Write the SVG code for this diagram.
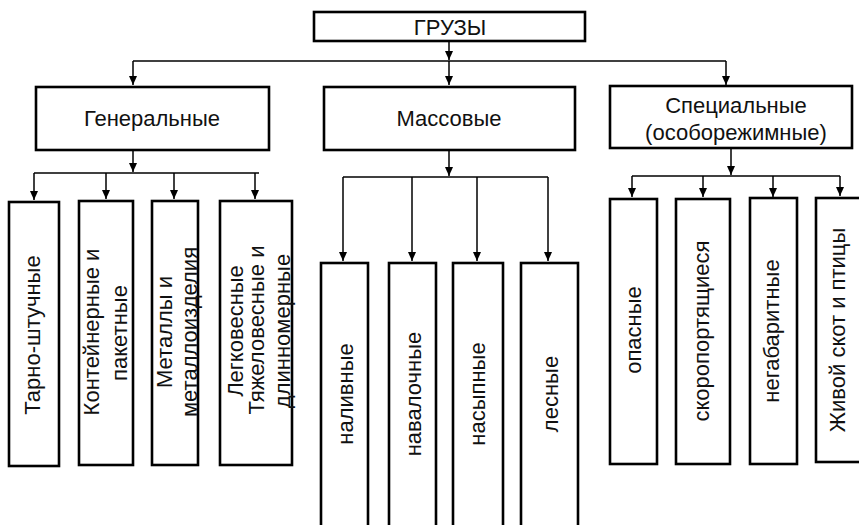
<svg xmlns="http://www.w3.org/2000/svg" width="859" height="525" viewBox="0 0 859 525">
<style>
.box{fill:#fff;stroke:#000;stroke-width:2.6}
.t{font-family:"Liberation Sans",Arial,sans-serif;font-size:22px;fill:#111;text-anchor:middle}
.c{fill:none;stroke:#000;stroke-width:1.5}
.a{marker-end:url(#ah)}
</style>
<defs>
<marker id="ah" markerWidth="10" markerHeight="10" refX="9" refY="4" orient="auto" markerUnits="userSpaceOnUse"><path d="M0,0 L9,4 L0,8 z" fill="#000"/></marker>
</defs>
<rect width="859" height="525" fill="#fff"/>
<g id="connectors">
<line class="c a" x1="449" y1="42" x2="449" y2="60"/>
<line class="c" x1="133" y1="61" x2="726" y2="61"/>
<line class="c a" x1="133" y1="61" x2="133" y2="85"/>
<line class="c a" x1="449" y1="61" x2="449" y2="85"/>
<line class="c a" x1="726" y1="61" x2="726" y2="85"/>
<line class="c a" x1="133" y1="150" x2="133" y2="172"/>
<line class="c" x1="34" y1="173" x2="259" y2="173"/>
<line class="c a" x1="34" y1="173" x2="34" y2="200"/>
<line class="c a" x1="106" y1="173" x2="106" y2="199"/>
<line class="c a" x1="174" y1="173" x2="174" y2="199"/>
<line class="c a" x1="255" y1="173" x2="255" y2="199"/>
<line class="c a" x1="449" y1="150" x2="449" y2="176"/>
<line class="c" x1="343" y1="177" x2="548" y2="177"/>
<line class="c a" x1="343" y1="177" x2="343" y2="261"/>
<line class="c a" x1="412" y1="177" x2="412" y2="261"/>
<line class="c a" x1="477" y1="177" x2="477" y2="261"/>
<line class="c a" x1="548" y1="177" x2="548" y2="261"/>
<line class="c a" x1="731" y1="149" x2="731" y2="175"/>
<line class="c" x1="632" y1="176" x2="840" y2="176"/>
<line class="c a" x1="632" y1="176" x2="632" y2="197"/>
<line class="c a" x1="703" y1="176" x2="703" y2="197"/>
<line class="c a" x1="773" y1="176" x2="773" y2="197"/>
<line class="c a" x1="840" y1="176" x2="840" y2="196"/>
</g>
<g id="gruzy"><rect class="box" x="314" y="12" width="271" height="29"/><text class="t" x="450" y="35">ГРУЗЫ</text></g>
<g id="general"><rect class="box" x="36" y="87" width="233" height="63"/><text class="t" x="152" y="126">Генеральные</text></g>
<g id="mass"><rect class="box" x="324" y="87" width="251" height="63"/><text class="t" x="449" y="126">Массовые</text></g>
<g id="special"><rect class="box" x="610" y="86" width="242" height="62"/><text class="t" x="736" y="113">Специальные</text><text class="t" x="736" y="140">(особорежимные)</text></g>
<g id="g1"><rect class="box" x="9" y="202" width="50" height="264"/><text class="t" x="40" y="335" transform="rotate(-90 40 335)">Тарно-штучные</text></g>
<g id="g2"><rect class="box" x="79" y="201" width="54" height="264"/><text class="t" x="99" y="332" transform="rotate(-90 99 332)">Контейнерные и</text><text class="t" x="127" y="333" transform="rotate(-90 127 333)">пакетные</text></g>
<g id="g3"><rect class="box" x="152" y="201" width="46" height="264"/><text class="t" x="172" y="332" transform="rotate(-90 172 332)">Металлы и</text><text class="t" x="197" y="332" transform="rotate(-90 197 332)">металлоизделия</text></g>
<g id="g4"><rect class="box" x="220" y="201" width="72" height="264"/><text class="t" x="243" y="331" transform="rotate(-90 243 331)">Легковесные</text><text class="t" x="264" y="330" transform="rotate(-90 264 330)">Тяжеловесные и</text><text class="t" x="290" y="331" transform="rotate(-90 290 331)">длинномерные</text></g>
<g id="m1"><rect class="box" x="321" y="263" width="47" height="272"/><text class="t" x="353" y="394" transform="rotate(-90 353 394)">наливные</text></g>
<g id="m2"><rect class="box" x="389" y="263" width="47" height="272"/><text class="t" x="421" y="394" transform="rotate(-90 421 394)">навалочные</text></g>
<g id="m3"><rect class="box" x="453" y="263" width="50" height="272"/><text class="t" x="485" y="394" transform="rotate(-90 485 394)">насыпные</text></g>
<g id="m4"><rect class="box" x="521" y="263" width="57" height="272"/><text class="t" x="558" y="394" transform="rotate(-90 558 394)">лесные</text></g>
<g id="s1"><rect class="box" x="610" y="199" width="47" height="265"/><text class="t" x="641" y="330" transform="rotate(-90 641 330)">опасные</text></g>
<g id="s2"><rect class="box" x="676" y="199" width="54" height="265"/><text class="t" x="709" y="331" transform="rotate(-90 709 331)">скоропортящиеся</text></g>
<g id="s3"><rect class="box" x="750" y="198" width="47" height="266"/><text class="t" x="779" y="331" transform="rotate(-90 779 331)">негабаритные</text></g>
<g id="s4"><rect class="box" x="816" y="198" width="64" height="264"/><text class="t" x="845" y="330" transform="rotate(-90 845 330)">Живой скот и птицы</text></g>
</svg>
